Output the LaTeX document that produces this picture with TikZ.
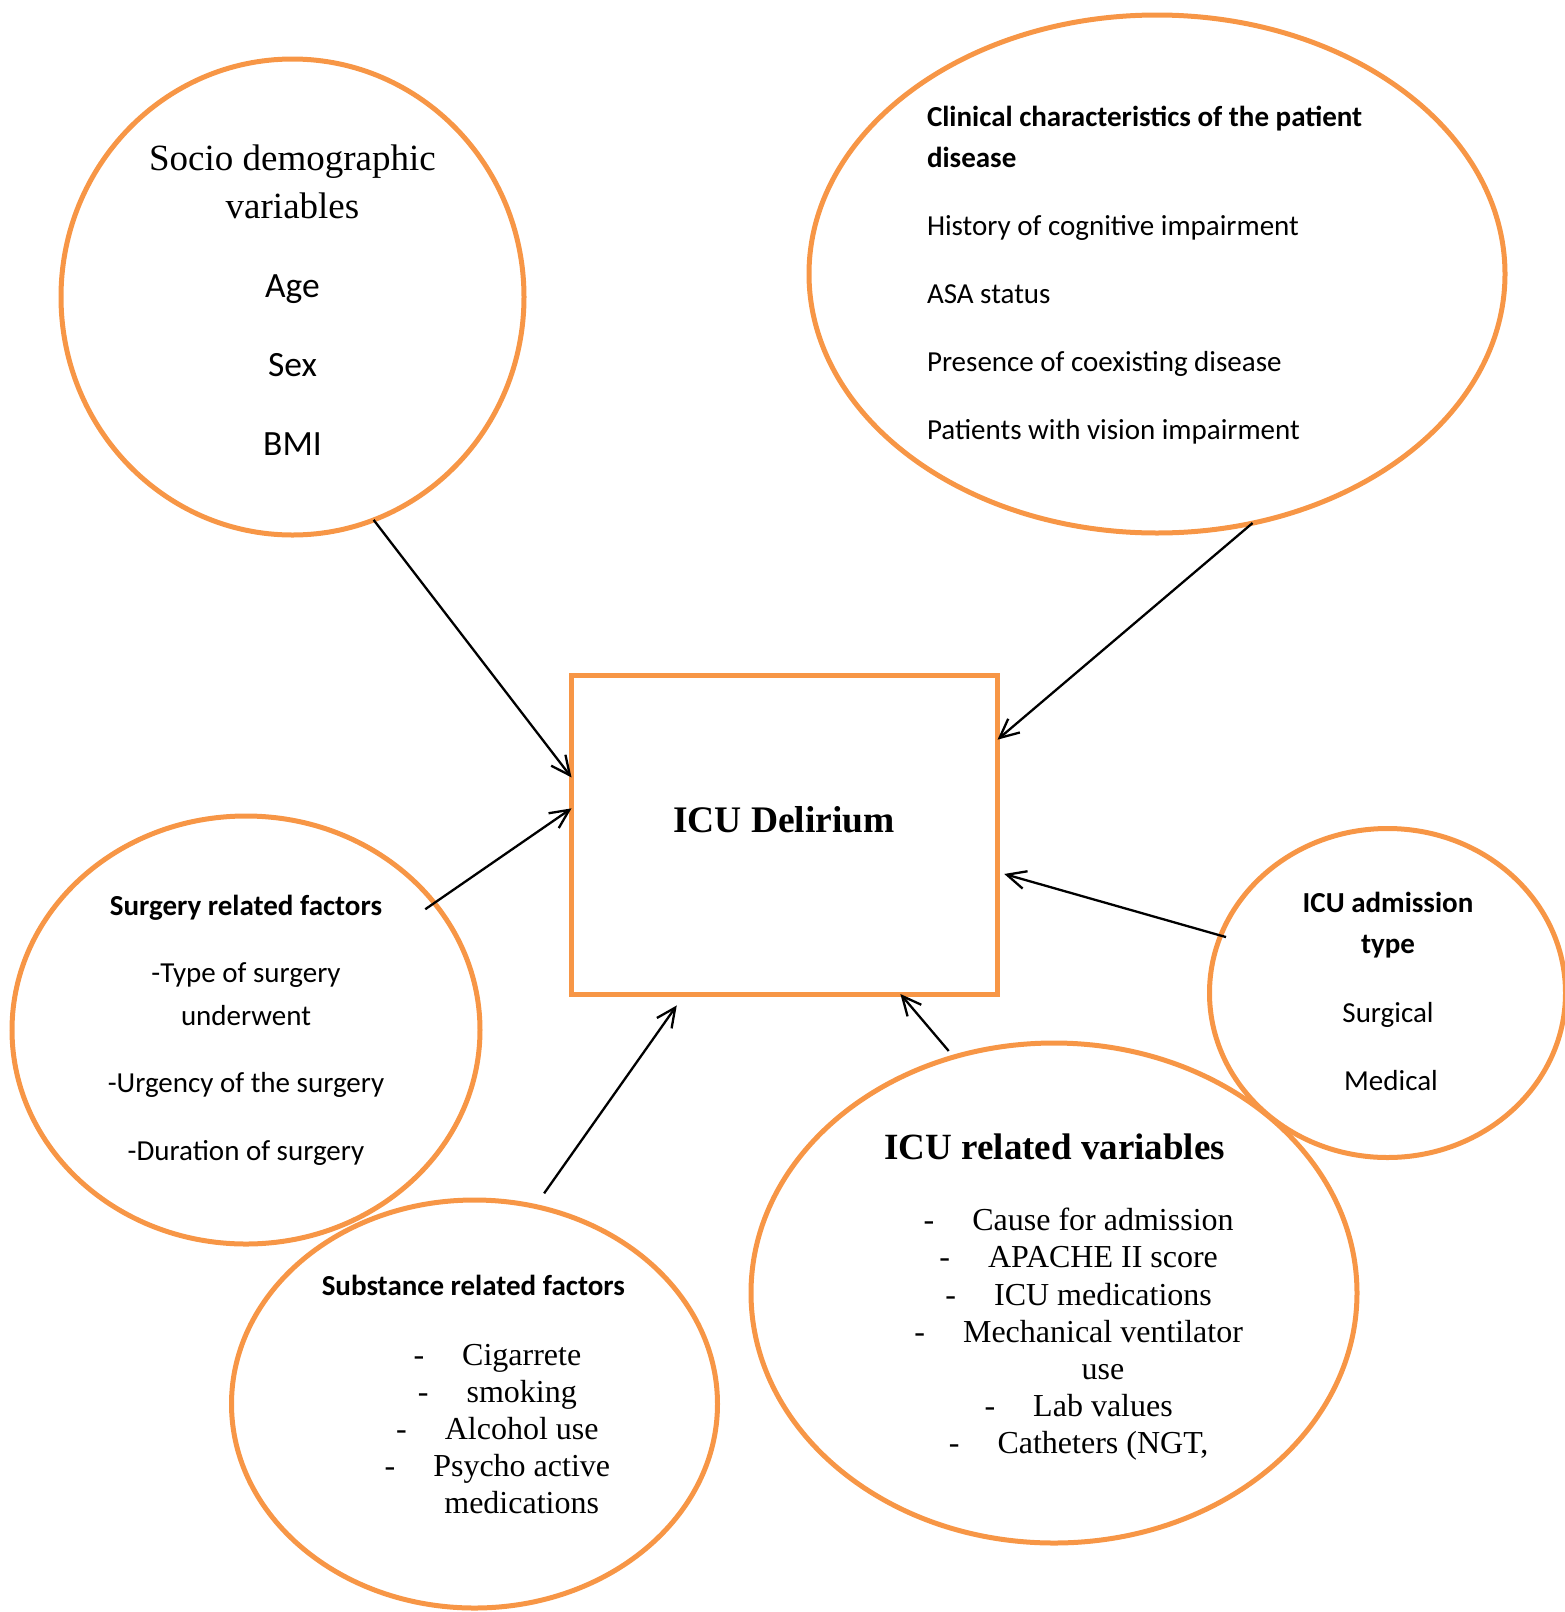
\documentclass[tikz,border=0pt]{standalone}
\usepackage{fontspec}
\setmainfont{Liberation Serif}
\newfontfamily\calibri{Carlito}
\usetikzlibrary{shapes.geometric,arrows.meta}
\definecolor{accentorange}{RGB}{247,150,70}
\tikzset{
  oval/.style={ellipse,draw=accentorange,line width=5pt,inner sep=0pt,outer sep=0pt},
  outcome/.style={rectangle,draw=accentorange,line width=5pt,inner sep=0pt,outer sep=0pt},
  sertxt/.style={anchor=base,inner sep=0pt,font=\fontsize{37}{44}\selectfont},
  sertitle/.style={anchor=base,inner sep=0pt,font=\bfseries\fontsize{37}{44}\selectfont},
  serlist/.style={anchor=base,inner sep=0pt,font=\fontsize{32}{37}\selectfont},
  calbig/.style={anchor=base,inner sep=0pt,font=\calibri\fontsize{35.5}{42}\selectfont},
  caltxt/.style={anchor=base,inner sep=0pt,font=\calibri\fontsize{29}{35}\selectfont},
  caltitle/.style={anchor=base,inner sep=0pt,font=\calibri\bfseries\fontsize{29}{35}\selectfont},
}
\newcommand\dashitem[1]{\llap{-\hspace{38pt}}#1}

\begin{document}
\begin{tikzpicture}[x=1pt,y=-1pt]
  \useasboundingbox (0,0) rectangle (1564,1612);
  \draw
    (292.5,297) node[oval,minimum width=463pt,minimum height=476pt] (socio){}
    (1157,274) node[oval,minimum width=696pt,minimum height=518pt] (clinical){}
    (246,1030) node[oval,minimum width=468pt,minimum height=428pt] (surgery){}
    (474.5,1404) node[oval,minimum width=486pt,minimum height=408pt] (substance){}
    (1054,1293) node[oval,minimum width=606pt,minimum height=500pt] (icuvars){}
    (1387.5,993) node[oval,minimum width=356pt,minimum height=329pt] (admission){}
    (784.5,834.5) node[outcome,minimum width=426pt,minimum height=319pt] (delirium){};

  % socio demographic
  \node[sertxt] (sociotitle1) at (292.5,170.7) {Socio demographic};
  \node[sertxt] (sociotitle2) at (292.5,218.6) {variables};
  \foreach \v [count=\i from 0] in {Age,Sex,BMI}
    \node[calbig] (socio\i) at (292.5,297+79*\i) {\v};

  % clinical characteristics
  \node[caltitle,anchor=base west] (clintitle1) at (926.8,126.8) {Clinical characteristics of the patient};
  \node[caltitle,anchor=base west] (clintitle2) at (926.8,167) {disease};
  \foreach \v [count=\i from 0] in {History of cognitive impairment,ASA status,Presence of coexisting disease,Patients with vision impairment}
    \node[caltxt,anchor=base west] (clin\i) at (926.8,235.7+67.9*\i) {\v};

  % outcome
  \node[sertitle,font=\bfseries\fontsize{37.5}{44}\selectfont] (deliriumtext) at (784,832.7) {ICU Delirium};

  % surgery
  \node[caltitle] (surgtitle) at (246,915) {Surgery related factors};
  \node[caltxt] (surg1) at (246,982.7) {-Type of surgery};
  \node[caltxt] (surg2) at (246,1025) {underwent};
  \node[caltxt] (surg3) at (246,1092.7) {-Urgency of the surgery};
  \node[caltxt] (surg4) at (246,1160.7) {-Duration of surgery};

  % substance
  \node[caltitle] (substitle) at (473.3,1295) {Substance related factors};
  \foreach \v [count=\i from 0] in {\dashitem{Cigarrete},\dashitem{smoking},\dashitem{Alcohol use},\dashitem{Psycho active},medications}
    \node[serlist] (subs\i) at (521.7,1365+37.1*\i) {\v};

  % icu related
  \node[sertitle] (icutitle) at (1054.8,1159.3) {ICU related variables};
  \foreach \v [count=\i from 0] in {\dashitem{Cause for admission},\dashitem{APACHE II score},\dashitem{ICU medications},\dashitem{Mechanical ventilator},use,\dashitem{Lab values},{\dashitem{Catheters (NGT,}}}
    \node[serlist] (icu\i) at (1103,1230.7+37.2*\i) {\v};

  % admission type
  \node[caltitle] (admtitle1) at (1388,912.7) {ICU admission};
  \node[caltitle] (admtitle2) at (1388,953.3) {type};
  \node[caltxt] (adm1) at (1388,1022.3) {Surgical};
  \node[caltxt] (adm2) at (1391,1090) {Medical};

  \begin{scope}[-{Straight Barb[length=19pt,width=18pt]},line width=2.3pt]
    \draw (socio.-70) to (delirium.165);
    \draw (clinical.-69) to (delirium.24);
    \draw[shorten <=-11pt] (surgery.34) to (delirium.173);
    \draw[shorten <=16pt,shorten >=14pt] (substance.73) to (delirium.-122);
    \draw[shorten <=8pt] (icuvars.113) to (delirium.-54);
    \draw[shorten <=-5.5pt,shorten >=7pt] (admission.161) to (delirium.-10);
  \end{scope}
\end{tikzpicture}
\end{document}
